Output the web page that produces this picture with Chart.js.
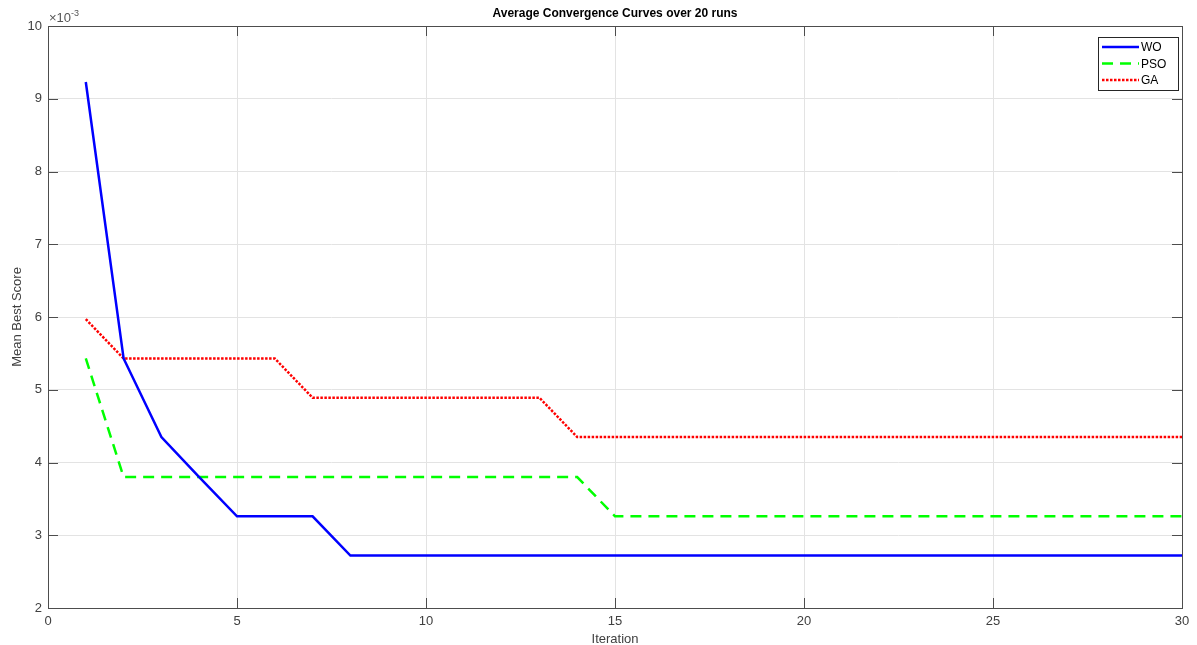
<!DOCTYPE html>
<html>
<head>
<meta charset="utf-8">
<script src="https://cdn.jsdelivr.net/npm/chart.js@4"></script>
<style>
  body { margin: 0; background: #fff; }
  #wrap { width: 1197px; height: 645px; }
</style>
</head>
<body>
<div id="wrap"><canvas id="chart" width="1197" height="645"></canvas></div>
<script>
// data (values in 1e-3 units)
const iterations = Array.from({ length: 30 }, (_, i) => i + 1);
const woScores = [9.23, 5.43, 4.35, 3.80, 3.26, 3.26, 3.26, 2.72, 2.72, 2.72,
  2.72, 2.72, 2.72, 2.72, 2.72, 2.72, 2.72, 2.72, 2.72, 2.72,
  2.72, 2.72, 2.72, 2.72, 2.72, 2.72, 2.72, 2.72, 2.72, 2.72];
const psoScores = [5.43, 3.80, 3.80, 3.80, 3.80, 3.80, 3.80, 3.80, 3.80, 3.80,
  3.80, 3.80, 3.80, 3.80, 3.26, 3.26, 3.26, 3.26, 3.26, 3.26,
  3.26, 3.26, 3.26, 3.26, 3.26, 3.26, 3.26, 3.26, 3.26, 3.26];
const gaScores = [5.97, 5.43, 5.43, 5.43, 5.43, 5.43, 4.89, 4.89, 4.89, 4.89,
  4.89, 4.89, 4.89, 4.35, 4.35, 4.35, 4.35, 4.35, 4.35, 4.35,
  4.35, 4.35, 4.35, 4.35, 4.35, 4.35, 4.35, 4.35, 4.35, 4.35];
const xTicks = [0, 5, 10, 15, 20, 25, 30];
const yTicks = [2, 3, 4, 5, 6, 7, 8, 9, 10];

const font = "Helvetica, 'Liberation Sans', Arial, sans-serif";
const toPoints = (arr) => arr.map((v, i) => ({ x: iterations[i], y: v }));

// box, inward ticks, exponent label, title and legend like matlab
const matlabAxes = {
  id: "matlabAxes",
  afterDraw(chart) {
    const { ctx, chartArea: a, scales } = chart;
    ctx.save();
    ctx.strokeStyle = "#4d4d4d";
    ctx.lineWidth = 1;
    ctx.strokeRect(a.left + 0.5, a.top + 0.5, a.right - a.left, a.bottom - a.top);
    ctx.beginPath();
    xTicks.forEach((t) => {
      const px = Math.round(scales.x.getPixelForValue(t)) + 0.5;
      ctx.moveTo(px, a.bottom); ctx.lineTo(px, a.bottom - 10);
      ctx.moveTo(px, a.top); ctx.lineTo(px, a.top + 10);
    });
    yTicks.forEach((t) => {
      const py = Math.round(scales.y.getPixelForValue(t)) + 0.5;
      ctx.moveTo(a.left, py); ctx.lineTo(a.left + 10, py);
      ctx.moveTo(a.right, py); ctx.lineTo(a.right - 10, py);
    });
    ctx.stroke();

    // exponent
    ctx.fillStyle = "#555";
    ctx.font = "13px " + font;
    ctx.textBaseline = "alphabetic";
    ctx.textAlign = "left";
    ctx.fillText("\u00d710", a.left + 1, a.top - 4);
    ctx.font = "9px " + font;
    ctx.fillText("-3", a.left + 23, a.top - 10);

    // title
    ctx.fillStyle = "#000";
    ctx.font = "bold 12px " + font;
    ctx.textAlign = "center";
    ctx.fillText("Average Convergence Curves over 20 runs", (a.left + a.right) / 2, 17);

    // legend
    const lx = 1098, ly = 37, lw = 80, lh = 53;
    ctx.fillStyle = "#fff";
    ctx.fillRect(lx, ly, lw, lh);
    ctx.strokeStyle = "#262626";
    ctx.strokeRect(lx + 0.5, ly + 0.5, lw, lh);
    chart.data.datasets.forEach((ds, i) => {
      const yy = ly + 10 + i * 16.5;
      ctx.beginPath();
      ctx.strokeStyle = ds.borderColor;
      ctx.lineWidth = ds.borderWidth;
      ctx.setLineDash(ds.borderDash || []);
      ctx.moveTo(lx + 4, yy);
      ctx.lineTo(lx + 41, yy);
      ctx.stroke();
      ctx.setLineDash([]);
      ctx.fillStyle = "#000";
      ctx.font = "12px " + font;
      ctx.textAlign = "left";
      ctx.textBaseline = "middle";
      ctx.fillText(ds.label, lx + 43, yy + 1);
    });
    ctx.restore();
  }
};

new Chart(document.getElementById("chart").getContext("2d"), {
  type: "line",
  data: {
    datasets: [
      { label: "WO", data: toPoints(woScores), borderColor: "#0000ff", borderWidth: 2.5 },
      { label: "PSO", data: toPoints(psoScores), borderColor: "#00ff00", borderWidth: 2.5, borderDash: [11, 7] },
      { label: "GA", data: toPoints(gaScores), borderColor: "#ff0000", borderWidth: 2.5, borderDash: [2.5, 1.5] }
    ]
  },
  options: {
    responsive: false,
    animation: false,
    layout: { padding: { top: 26, right: 15, left: 0, bottom: 0 } },
    elements: { point: { radius: 0 }, line: { tension: 0, fill: false } },
    plugins: { legend: { display: false }, title: { display: false }, tooltip: { enabled: false } },
    scales: {
      x: {
        type: "linear", min: 0, max: 30,
        afterFit: (s) => { s.height = 37; },
        afterBuildTicks: (s) => { s.ticks = xTicks.map((v) => ({ value: v })); },
        grid: { color: "#e3e3e3", drawTicks: false },
        border: { display: false },
        ticks: { color: "#404040", padding: 6, font: { family: font, size: 13 }, maxRotation: 0 },
        title: { display: true, text: "Iteration", color: "#404040", padding: { top: 0, bottom: -2 }, font: { family: font, size: 13 } }
      },
      y: {
        type: "linear", min: 2, max: 10,
        afterFit: (s) => { s.width = 48; },
        afterBuildTicks: (s) => { s.ticks = yTicks.map((v) => ({ value: v })); },
        grid: { color: "#e3e3e3", drawTicks: false },
        border: { display: false },
        ticks: { color: "#404040", padding: 6, font: { family: font, size: 13 } },
        title: { display: true, text: "Mean Best Score", color: "#404040", padding: { top: 10, bottom: 2 }, font: { family: font, size: 13 } }
      }
    }
  },
  plugins: [matlabAxes]
});
</script>
</body>
</html>
